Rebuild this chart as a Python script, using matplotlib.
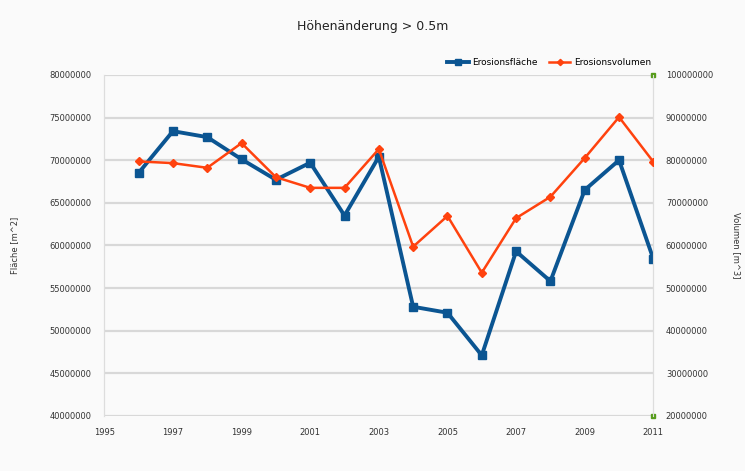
import numpy as np
import matplotlib.pyplot as plt
from matplotlib.ticker import FuncFormatter

# ---------- DATA ----------
YEARS = [1996, 1997, 1998, 1999, 2000, 2001, 2002, 2003,
         2004, 2005, 2006, 2007, 2008, 2009, 2010, 2011]
FLAECHE = [68.5, 73.4, 72.7, 70.1, 67.7, 69.7, 63.5, 70.4,
           52.8, 52.1, 47.1, 59.3, 55.8, 66.5, 70.0, 58.4]   # million m^2
VOLUMEN = [79.7, 79.3, 78.2, 84.0, 76.0, 73.5, 73.5, 82.6,
           59.7, 66.9, 53.6, 66.4, 71.4, 80.5, 90.1, 79.6]   # million m^3
MARKER_YEARS = [2011, 2011]
MARKER_VALS = [100, 20]                                      # million m^3
X_TICKS = list(range(1995, 2012, 2))
# --------------------------

BLUE = "#0b5592"
ORANGE = "#ff420e"
GREEN = "#579d1c"

fig = plt.figure(figsize=(7.45, 4.71), dpi=100, facecolor="#fafafa")
ax = fig.add_axes([0.140, 0.117, 0.737, 0.724])
ax.set_facecolor("#fafafa")
ax2 = ax.twinx()

scale = 1e6
l1, = ax.plot(YEARS, np.array(FLAECHE) * scale, color=BLUE, lw=2.8,
              marker="s", ms=6, label="Erosionsfläche", zorder=3)
l2, = ax2.plot(YEARS, np.array(VOLUMEN) * scale, color=ORANGE, lw=1.8,
               marker="D", ms=4, label="Erosionsvolumen", zorder=3)
ax2.plot(MARKER_YEARS, np.array(MARKER_VALS) * scale, ls="none",
         marker="s", ms=3, color=GREEN, clip_on=False)

ax.set_xlim(1995, 2011)
ax.set_ylim(40e6, 80e6)
ax2.set_ylim(20e6, 100e6)
ax.set_xticks(X_TICKS)
ax.set_yticks(np.arange(40e6, 80e6 + 1, 5e6))
ax2.set_yticks(np.arange(20e6, 100e6 + 1, 10e6))

fmt = FuncFormatter(lambda v, p: f"{int(round(v))}")
ax.yaxis.set_major_formatter(fmt)
ax2.yaxis.set_major_formatter(fmt)

ax.grid(axis="y", color="#d8d8d8", lw=1.6)
ax.set_axisbelow(True)

for a in (ax, ax2):
    a.tick_params(length=0, labelsize=6, colors="#333333", pad=9)
    for s in ("top", "bottom"):
        a.spines[s].set_visible(False)
    a.spines["left"].set_color("#dddddd")
    a.spines["right"].set_color("#dddddd")

ax.set_ylabel("Fläche [m^2]", fontsize=6, color="#333333", labelpad=22)
ax2.set_ylabel("Volumen [m^3]", fontsize=6, color="#333333",
               rotation=270, labelpad=20)

fig.text(0.5, 0.943, "Höhenänderung > 0.5m", ha="center", va="center",
         fontsize=9, color="#222222")

fig.legend(handles=[l1, l2], loc="center right", bbox_to_anchor=(0.885, 0.868),
           ncol=2, frameon=False, fontsize=6.5, handlelength=2.4,
           columnspacing=1.2, handletextpad=0.4, markerscale=0.8)

fig.savefig("out.png", dpi=100, facecolor=fig.get_facecolor())
